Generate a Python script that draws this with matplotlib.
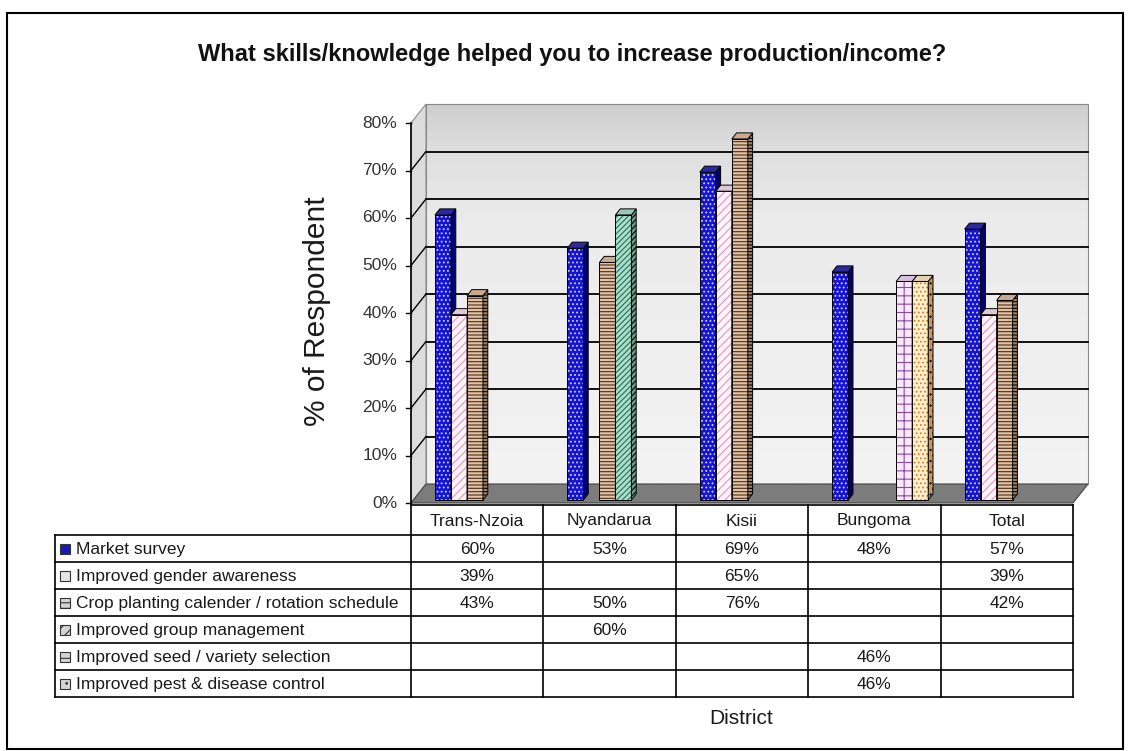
import numpy as np
import matplotlib
matplotlib.use("Agg")
import matplotlib.pyplot as plt
from matplotlib.patches import Polygon, Rectangle
from matplotlib.colors import LinearSegmentedColormap

plt.rcParams['font.family'] = ['Liberation Sans', 'DejaVu Sans']
plt.rcParams['hatch.linewidth'] = 0.8

nan = np.nan
title = "What skills/knowledge helped you to increase production/income?"
districts = ["Trans-Nzoia", "Nyandarua", "Kisii", "Bungoma", "Total"]
skills = ["Market survey",
          "Improved gender awareness",
          "Crop planting calender / rotation schedule",
          "Improved group management",
          "Improved seed / variety selection",
          "Improved pest & disease control"]
market_survey = [60, 53, 69, 48, 57]
gender_awareness = [39, nan, 65, nan, 39]
crop_calendar = [43, 50, 76, nan, 42]
group_management = [nan, 60, nan, nan, nan]
seed_selection = [nan, nan, nan, 46, nan]
pest_control = [nan, nan, nan, 46, nan]
series = [market_survey, gender_awareness, crop_calendar,
          group_management, seed_selection, pest_control]
yticks = [0, 10, 20, 30, 40, 50, 60, 70, 80]

# face, hatch colour, hatch, side face, top face, side hatch
styles = [
    ('#1414d2', '#d0d0ff', '....', '#00006e', '#2a2aa0', None),
    ('#fff4fa', '#ea92bc', '////', '#e8c8d8', '#e0c8d8', '////'),
    ('#e2c2a4', '#4a3020', '-----', '#a08060', '#c8aa90', '-----'),
    ('#a8e0cc', '#2f6a58', '//////', '#6a9a88', '#98c8b8', '//////'),
    ('#fbe8fb', '#8a4aa8', '++', '#c8a8d0', '#d8c0e0', '++'),
    ('#fff0d0', '#e07a20', '....', '#c89860', '#e8d0a8', '...'),
]
key_styles = [('#1a1ab4', None), ('#e4e4e4', None), ('#d4d4d4', '---'),
              ('#d4d4d4', '///'), ('#d4d4d4', '+'), ('#d4d4d4', '..')]

# layout in pixels
W, H = 1131, 751
AX_L, AX_R, Y0, Y80 = 411, 1073, 503, 123
DX, DY = 15, 19
LEG_L = 55
HEAD_T, ROW_T, ROW_H = 505, 535, 27

fig = plt.figure(figsize=(W / 100, H / 100), dpi=100)
fig.patch.set_facecolor('white')

ov = fig.add_axes([0, 0, 1, 1])
ov.set_xlim(0, W)
ov.set_ylim(H, 0)
ov.axis('off')

ax = fig.add_axes([AX_L / W, 1 - Y0 / H, (AX_R - AX_L) / W, (Y0 - Y80) / H])
ax.patch.set_visible(False)
ax.axis('off')

ncat = len(districts)
sx = ncat / (AX_R - AX_L)
sy = 80 / (Y0 - Y80)
ddx, ddy = DX * sx, DY * sy

# back wall with soft grey gradient
grad = np.linspace(1, 0, 200).reshape(-1, 1)
cmap = LinearSegmentedColormap.from_list(
    'wall', [(0, '#f3f3f3'), (0.7, '#ebebeb'), (0.88, '#dedede'), (1, '#cfcfcf')])
im = ax.imshow(grad, extent=[ddx, ncat + ddx, ddy, 80 + ddy], aspect='auto',
               cmap=cmap, zorder=0, origin='upper')
im.set_clip_on(False)
ax.add_patch(Rectangle((ddx, ddy), ncat, 80, fill=False, ec='#8a8a8a', lw=0.8,
                       zorder=1, clip_on=False))
# side wall
ax.add_patch(Polygon([(0, 0), (ddx, ddy), (ddx, 80 + ddy), (0, 80)],
                     closed=True, fc='#dcdcdc', ec='#8a8a8a', lw=0.8, zorder=1,
                     clip_on=False))
# floor
ax.add_patch(Polygon([(0, 0), (ncat, 0), (ncat + ddx, ddy), (ddx, ddy)],
                     closed=True, fc='#7c7c7c', ec='#444444', lw=0.8, zorder=1,
                     clip_on=False))

for t in yticks[1:-1]:
    ax.plot([ddx, ncat + ddx], [t + ddy, t + ddy], color='black', lw=1.3,
            zorder=2, clip_on=False)
    ax.plot([0, ddx], [t, t + ddy], color='black', lw=1.0, zorder=2, clip_on=False)

ax.plot([0, 0], [0, 80], color='black', lw=1.2, zorder=2, clip_on=False)
for t in yticks:
    ax.plot([-5 * sx, 0], [t, t], color='black', lw=1.0, clip_on=False)
    ax.text(-14 * sx, t, f"{t}%", ha='right', va='center', fontsize=12.5,
            color='#333333')

# bars
F_FRONT = 0.16
BAR_D = 0.32
bw = 16 * sx
slot0 = 21.6 * sx
bdx, bdy = BAR_D * ddx, BAR_D * ddy
x_idx = np.arange(ncat)
for j, (vals, st) in enumerate(zip(series, styles)):
    face, hcol, hatch, side, top, shatch = st
    vals = np.array(vals, dtype=float)
    ok = ~np.isnan(vals)
    xs = x_idx[ok] + slot0 + j * bw + F_FRONT * ddx
    z = 3 + j
    bars = ax.bar(xs, vals[ok], width=bw, bottom=F_FRONT * ddy, align='edge',
                  color=face, edgecolor=hcol, hatch=hatch, lw=0, zorder=z)
    ax.bar(xs, vals[ok], width=bw, bottom=F_FRONT * ddy, align='edge',
           fill=False, edgecolor='black', lw=0.7, zorder=z)
    for r in bars:
        x, y, w, h = r.get_x(), r.get_y(), r.get_width(), r.get_height()
        ax.add_patch(Polygon([(x + w, y), (x + w + bdx, y + bdy),
                              (x + w + bdx, y + h + bdy), (x + w, y + h)],
                             closed=True, fc=side, ec='black', lw=0.7,
                             hatch=shatch, zorder=z, clip_on=False))
        ax.add_patch(Polygon([(x, y + h), (x + w, y + h),
                              (x + w + bdx, y + h + bdy), (x + bdx, y + h + bdy)],
                             closed=True, fc=top, ec='black', lw=0.7,
                             zorder=z, clip_on=False))

ax.set_xlim(0, ncat)
ax.set_ylim(0, 80)

# data table under the chart
col_w = (AX_R - AX_L) / ncat
col_edges = [AX_L + k * col_w for k in range(ncat + 1)]
row_edges = [ROW_T + k * ROW_H for k in range(len(skills) + 1)]
lc = 'black'
ov.plot([AX_L, AX_R], [HEAD_T, HEAD_T], color=lc, lw=1.2)
for y in row_edges:
    ov.plot([LEG_L, AX_R], [y, y], color=lc, lw=1.2)
for x in col_edges:
    ov.plot([x, x], [HEAD_T, row_edges[-1]], color=lc, lw=1.2)
ov.plot([LEG_L, LEG_L], [ROW_T, row_edges[-1]], color=lc, lw=1.2)

for i, name in enumerate(districts):
    ov.text((col_edges[i] + col_edges[i + 1]) / 2, (HEAD_T + ROW_T) / 2 + 1, name,
            ha='center', va='center', fontsize=12.5, color='#1a1a1a')

for j, (label, vals) in enumerate(zip(skills, series)):
    yc = (row_edges[j] + row_edges[j + 1]) / 2 + 1
    fc, kh = key_styles[j]
    ov.add_patch(Rectangle((60, yc - 5.5), 10, 10, fc=fc, ec='#333333', lw=0.8,
                           hatch=kh))
    ov.text(76, yc, label, ha='left', va='center', fontsize=12.5, color='#1a1a1a')
    for i, v in enumerate(vals):
        if not np.isnan(v):
            ov.text((col_edges[i] + col_edges[i + 1]) / 2, yc, f"{v:.0f}%",
                    ha='center', va='center', fontsize=12.5, color='#1a1a1a')

ov.text(572, 55, title, ha='center', va='center', fontsize=17, fontweight='bold',
        color='#111111')
ov.text(317, 311, "% of Respondent", ha='center', va='center', rotation=90,
        fontsize=21.5, color='#1a1a1a')
ov.text(741, 718, "District", ha='center', va='center', fontsize=15,
        color='#1a1a1a')

# outer frame
ov.add_patch(Rectangle((7, 13), 1116, 736, fill=False, ec='black', lw=1.5))

fig.savefig("out.png", dpi=100, facecolor='white')
